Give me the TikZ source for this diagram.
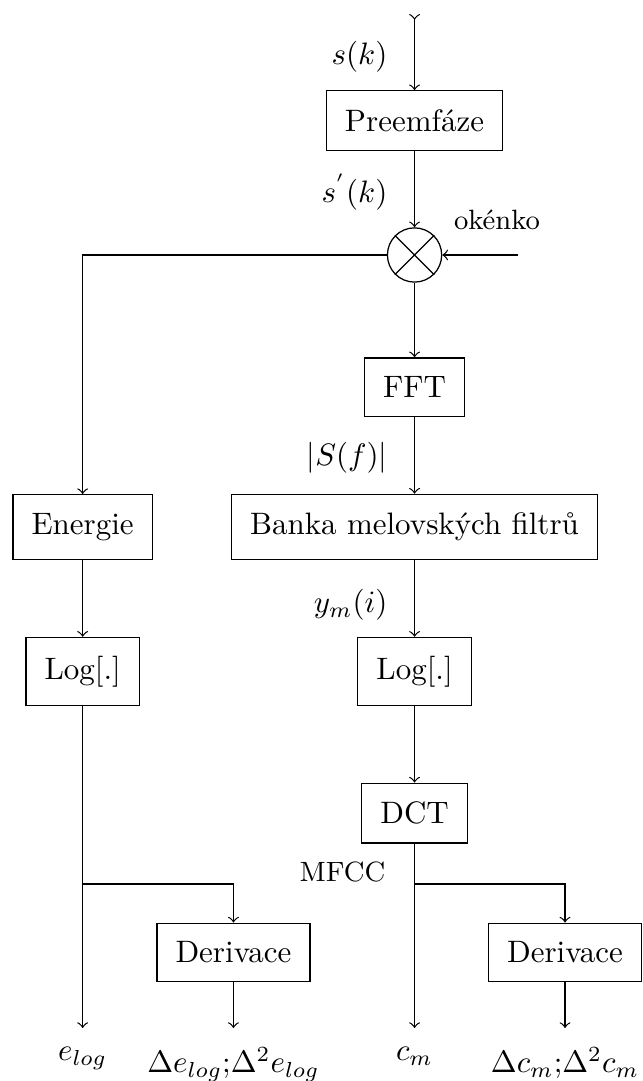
\documentclass[tikz,border=0pt]{standalone}
\usepackage{amsmath}
\usepackage{amssymb}
\usepackage{tikz}
\usetikzlibrary{arrows}

\begin{document}
\begin{tikzpicture}[>=to,blok/.style={draw, inner sep=6pt, text centered, text=black},
    sig/.style={anchor=east, inner sep=0pt},
    vystup/.style={anchor=north, inner sep=6pt}]
    \useasboundingbox (0,0) rectangle (7.279,-12.256);

    \coordinate (in) at (4.700,-0.16);
    \node[blok] (n1) at (4.700,-1.366) {Preemfáze};
    \node[draw, circle, minimum size=17.5pt, inner sep=0pt] (n2) at (4.700,-2.891) {};
    \draw (n2.north west) -- (n2.south east) (n2.north east) -- (n2.south west);
    \coordinate (okno) at (5.873,-2.891);

    \node[blok] (n3) at (4.700,-4.388) {FFT};
    \node[blok] (n4) at (4.700,-5.975) {Banka melovských filtrů};
    \node[blok] (n5) at (4.700,-7.613) {Log[.]};
    \node[blok] (n6) at (4.700,-9.218) {DCT};
    \node[blok] (n7) at (6.406,-10.799) {Derivace};

    \node[blok] (n8) at (0.937,-5.975) {Energie};
    \node[blok] (n9) at (0.937,-7.613) {Log[.]};
    \node[blok] (n10) at (2.647,-10.799) {Derivace};

    \coordinate (b1) at (0.937,-10.023);
    \coordinate (b2) at (4.700,-10.023);

    \node[vystup] (o1) at (0.937,-11.655) {$e_{log}$};
    \node[vystup] (o2) at (2.647,-11.655) {$\Delta e_{log}{;}\Delta^2 e_{log}$};
    \node[vystup] (o3) at (4.700,-11.655) {$c_m$};
    \node[vystup] (o4) at (6.406,-11.655) {$\Delta c_m{;}\Delta^2 c_m$};

    \node[sig] (l1) at (4.399,-0.643) {$s(k)$};
    \node[sig] (l2) at (4.399,-2.177) {$s^{'}(k)$};
    \node (l3) at (5.635,-2.497) {\small okénko};
    \node[sig] (l4) at (4.399,-5.187) {$|S(f)|$};
    \node[sig] (l5) at (4.399,-6.859) {$y_m(i)$};
    \node[sig] (l6) at (4.375,-9.887) {\small MFCC};

    \draw[>->] (in) -- (n1);
    \draw[->] (n1) -- (n2);
    \draw[->] (okno) -- (n2);
    \draw[->] (n2) -- (n3);
    \draw[->] (n3) -- (n4);
    \draw[->] (n4) -- (n5);
    \draw[->] (n5) -- (n6);
    \draw[->] (n6) -- (o3);
    \draw[->] (b2) -| (n7);
    \draw[->] (n7) -- (o4);

    \draw[->] (n2) -| (n8);
    \draw[->] (n8) -- (n9);
    \draw[->] (n9) -- (o1);
    \draw[->] (b1) -| (n10);
    \draw[->] (n10) -- (o2);
\end{tikzpicture}
\end{document}
